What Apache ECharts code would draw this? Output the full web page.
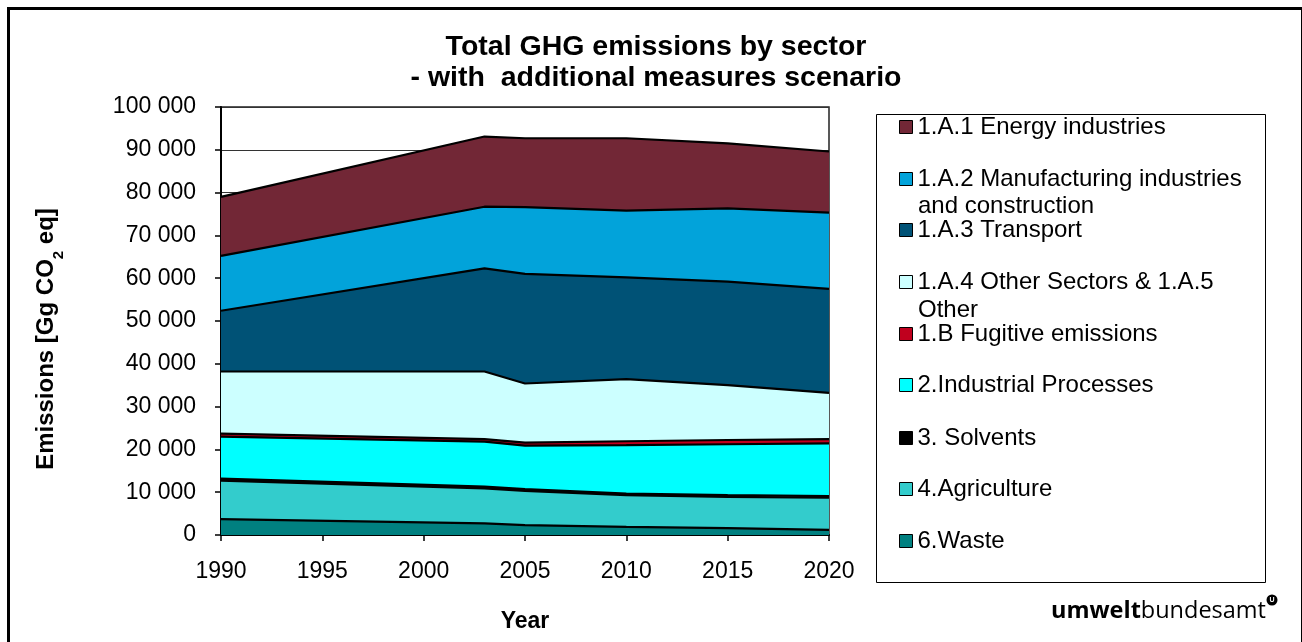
<!DOCTYPE html>
<html>
<head>
<meta charset="utf-8">
<title>Total GHG emissions by sector</title>
<script src="https://cdn.jsdelivr.net/npm/echarts@6/dist/echarts.min.js"></script>
<style>
  html, body { margin: 0; padding: 0; background: #fff; }
  #chart { width: 1302px; height: 642px; }
</style>
</head>
<body>
<div id="chart"></div>
<script>
// Emission years (x axis, value scale)
const years = [1990, 2003, 2005, 2010, 2015, 2020];

// Sector emissions in Gg CO2 equivalent, stacked from the bottom up
const waste         = [3700, 2700, 2300, 1900, 1600, 1200];
const agriculture   = [9000, 8200, 8000, 7400, 7300, 7500];
const solvents      = [500, 400, 400, 400, 400, 400];
const industrial    = [9800, 10500, 10200, 11300, 11900, 12300];
const fugitive      = [700, 600, 700, 900, 1000, 1000];
const otherSectors  = [14500, 15800, 13800, 14500, 12800, 10800];
const transport     = [14200, 24100, 25600, 23800, 24200, 24300];
const manufacturing = [12800, 14400, 15600, 15600, 17100, 17800];
const energy        = [13800, 16400, 16100, 16900, 15200, 14300];

// Series names, bottom layer first
const names = [
  '6.Waste',
  '4.Agriculture',
  '3. Solvents',
  '2.Industrial Processes',
  '1.B Fugitive emissions',
  '1.A.4 Other Sectors & 1.A.5 Other',
  '1.A.3 Transport',
  '1.A.2 Manufacturing industries and construction',
  '1.A.1 Energy industries'
];
const values = [waste, agriculture, solvents, industrial, fugitive, otherSectors, transport, manufacturing, energy];
const fills = ['#008080', '#33CCCC', '#000000', '#00FFFF', '#C0001E', '#CCFFFF', '#005276', '#02A3DA', '#722736'];

// Legend rows, top to bottom: series index, first-line text, row centre y
const legendRows = [
  [8, '1.A.1 Energy industries', 127],
  [7, '1.A.2 Manufacturing industries', 179],
  [6, '1.A.3 Transport', 230],
  [5, '1.A.4 Other Sectors & 1.A.5', 282],
  [4, '1.B Fugitive emissions', 334],
  [3, '2.Industrial Processes', 385],
  [2, '3. Solvents', 438],
  [1, '4.Agriculture', 489],
  [0, '6.Waste', 541]
];

const FONT = '"Liberation Sans", Arial, sans-serif';

// Value comes first in each point so the stack is taken on the y dimension
const series = names.map((name, i) => ({
  name: name,
  type: 'line',
  stack: 'total',
  symbol: 'none',
  encode: { x: 1, y: 0 },
  data: years.map((yr, k) => [values[i][k], yr]),
  lineStyle: { color: '#000', width: 2.2 },
  itemStyle: { color: fills[i] },
  areaStyle: { color: fills[i], opacity: 1 },
  emphasis: { disabled: true },
  z: 2
}));

const legends = legendRows.map(([idx, label, cy]) => ({
  orient: 'vertical',
  left: 899,
  top: cy - 13,
  padding: 0,
  itemWidth: 13,
  itemHeight: 13,
  itemGap: 0,
  icon: 'rect',
  selectedMode: false,
  data: [{
    name: names[idx],
    itemStyle: { color: fills[idx], borderColor: '#000', borderWidth: 1 }
  }],
  formatter: () => label,
  textStyle: { fontFamily: FONT, fontSize: 24, color: '#000', lineHeight: 26 }
}));

function spaced(v) {
  return String(v).replace(/\B(?=(\d{3})+(?!\d))/g, ' ');
}

const option = {
  animation: false,
  title: {
    text: 'Total GHG emissions by sector\n- with  additional measures scenario',
    left: 651,
    textAlign: 'center',
    top: 27,
    textStyle: { fontFamily: FONT, fontSize: 28.5, fontWeight: 'bold', color: '#000', lineHeight: 31 }
  },
  legend: legends,
  grid: {
    left: 221, top: 107, right: 473, bottom: 107,
    show: true, borderColor: '#222', borderWidth: 1.5, backgroundColor: 'transparent'
  },
  xAxis: {
    type: 'value',
    min: 1990, max: 2020, interval: 5,
    name: 'Year',
    nameLocation: 'middle',
    nameGap: 75,
    nameTextStyle: { fontFamily: FONT, fontSize: 23, fontWeight: 'bold', color: '#000' },
    axisLine: { show: true, onZero: false, lineStyle: { color: '#000', width: 2 } },
    axisTick: { show: true, length: 6, lineStyle: { color: '#000', width: 1.5 } },
    axisLabel: {
      margin: 25, fontFamily: FONT, fontSize: 23, color: '#000',
      formatter: v => String(v)
    },
    splitLine: { show: false }
  },
  yAxis: {
    type: 'value',
    min: 0, max: 100000, interval: 10000,
    name: '{n|Emissions [Gg CO}{s|2}{n| eq]}',
    nameLocation: 'middle',
    nameGap: 161,
    nameTextStyle: {
      fontFamily: FONT, fontSize: 24, fontWeight: 'bold', color: '#000',
      padding: [0, 36, 0, 0],
      rich: {
        n: { fontFamily: FONT, fontSize: 24, fontWeight: 'bold', color: '#000', lineHeight: 28 },
        s: { fontFamily: FONT, fontSize: 15, fontWeight: 'bold', color: '#000', lineHeight: 28, verticalAlign: 'bottom', padding: [0, 0, -6, 0] }
      }
    },
    axisLine: { show: true, lineStyle: { color: '#000', width: 2 } },
    axisTick: { show: true, length: 6, lineStyle: { color: '#000', width: 1.5 } },
    axisLabel: { margin: 25, fontFamily: FONT, fontSize: 23, color: '#000', formatter: spaced },
    splitLine: { show: true, lineStyle: { color: '#333', width: 1 } }
  },
  series: series,
  graphic: [
    // outer frame
    { type: 'rect', left: 6, top: 6, shape: { width: 1294, height: 650 }, style: { fill: 'none', stroke: '#000', lineWidth: 3 }, silent: true, z: 0 },
    // legend box
    { type: 'rect', left: 876, top: 114, shape: { width: 389, height: 468 }, style: { fill: '#fff', stroke: '#000', lineWidth: 1 }, silent: true, z: -1 },
    // wrapped second lines of the long legend labels
    { type: 'text', left: 918, top: 206 - 13, style: { text: 'and construction', font: '24px ' + FONT, fill: '#000', lineHeight: 26 }, silent: true },
    { type: 'text', left: 918, top: 310 - 13, style: { text: 'Other', font: '24px ' + FONT, fill: '#000', lineHeight: 26 }, silent: true },
    // agency logotype
    {
      type: 'text', x: 1266, y: 623, silent: true,
      style: {
        text: '{b|umwelt}{r|bundesamt}',
        align: 'right', verticalAlign: 'bottom',
        rich: {
          b: { fontFamily: '"Open Sans", sans-serif', fontWeight: 'bold', fontSize: 23.5, fill: '#000' },
          r: { fontFamily: '"Open Sans", sans-serif', fontSize: 23.5, fill: '#000' }
        }
      }
    },
    { type: 'circle', shape: { cx: 1272, cy: 600, r: 5.5 }, style: { fill: '#000' }, silent: true },
    { type: 'text', x: 1272, y: 600.5, silent: true, style: { text: 'U', align: 'center', verticalAlign: 'middle', font: 'bold 7px ' + FONT, fill: '#fff' } }
  ]
};

const chart = echarts.init(document.getElementById('chart'), null, { renderer: 'canvas' });
chart.setOption(option);
</script>
</body>
</html>
